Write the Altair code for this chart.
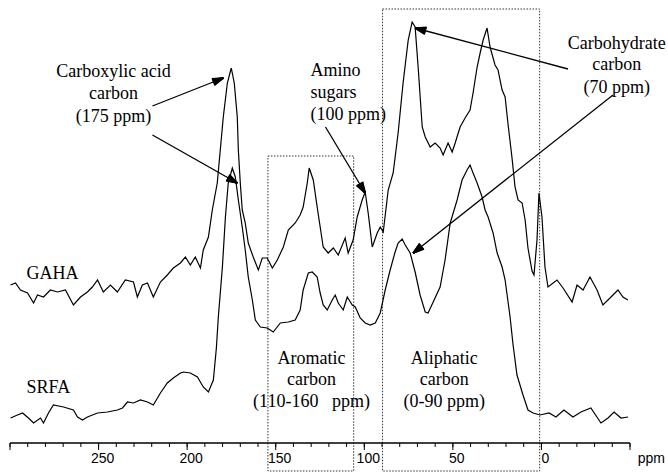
import math
import altair as alt
import pandas as pd

# ---------------- data ----------------
gaha_ppm = [299.7, 296.9, 294.1, 290.1, 286.7, 284.5, 281.1, 277.2, 273.2, 268.7, 264.2, 260.2, 256.3, 253.5,
            250.6, 247.3, 243.3, 239.4, 234.9, 230.3, 228.1, 225.3, 222.4, 219.1, 215.1, 211.2, 207.8, 203.8,
            201.0, 198.2, 195.4, 192.5, 190.9, 188.0, 185.8, 183.0, 181.3, 179.6, 177.3, 175.1, 173.4, 171.7,
            171.1, 170.0, 168.9, 167.2, 165.5, 162.7, 159.8, 157.6, 154.8, 151.9, 149.1, 145.7, 142.9, 139.0,
            136.2, 134.5, 132.2, 131.1, 128.8, 126.6, 124.9, 123.2, 120.4, 117.5, 114.7, 110.8, 109.1, 106.3,
            104.0, 101.2, 99.5, 97.8, 95.5, 92.7, 91.0, 89.3, 86.5, 83.7, 80.9, 78.1, 75.2, 73.0, 71.3, 69.6,
            67.3, 65.6, 62.8, 60.0, 57.2, 55.5, 52.7, 50.4, 48.7, 45.9, 43.1, 40.3, 38.6, 36.3, 34.6, 32.9,
            30.7, 29.0, 26.2, 24.5, 22.2, 20.5, 18.8, 16.6, 14.9, 13.2, 10.9, 9.2, 7.6, 5.3, 4.2, 2.5, 1.4,
            -0.3, -2.0, -3.7, -8.8, -12.2, -17.3, -20.1, -23.5, -27.4, -31.4, -34.7, -38.7, -43.2, -46.0, -48.8]
gaha_int = [158, 160, 153, 150, 140, 148, 146, 153, 151, 153, 138, 146, 151, 156,
            163, 151, 158, 151, 163, 161, 146, 158, 160, 146, 161, 168, 175, 180,
            186, 178, 186, 175, 193, 206, 233, 260, 293, 326, 360, 375, 360, 326,
            293, 260, 233, 220, 200, 186, 173, 185, 185, 175, 183, 196, 213, 220,
            228, 236, 260, 275, 263, 236, 216, 196, 190, 195, 188, 205, 190, 203,
            226, 243, 251, 230, 196, 210, 216, 211, 253, 270, 310, 360, 403, 421, 416, 376,
            316, 306, 296, 300, 295, 288, 300, 291, 300, 316, 325, 333, 350, 376, 390, 403,
            415, 396, 378, 373, 353, 346, 318, 285, 256, 243, 240, 223, 195, 172, 168, 203, 250,
            226, 176, 156, 163, 155, 141, 158, 153, 166, 153, 138, 145, 153, 146, 143]

srfa_ppm = [299.7, 295.8, 292.9, 289.6, 286.7, 282.8, 281.1, 278.3, 275.5, 269.8, 264.2, 261.9, 259.1, 256.3,
            250.6, 245.0, 239.4, 236.5, 233.7, 230.3, 226.4, 222.4, 219.1, 215.1, 211.2, 207.8, 203.8, 202.1,
            198.2, 194.2, 190.9, 188.0, 185.2, 183.5, 182.4, 180.1, 178.4, 176.8, 174.5, 172.8, 171.1, 168.9,
            167.2, 165.5, 163.2, 161.5, 158.7, 154.8, 151.4, 147.4, 142.9, 139.0, 136.2, 134.5, 131.6, 129.4,
            126.6, 124.9, 123.2, 120.9, 118.1, 116.4, 114.7, 111.9, 109.6, 106.8, 105.1, 102.3, 99.5, 96.7,
            93.8, 91.0, 88.2, 85.4, 82.6, 80.9, 78.6, 76.9, 74.1, 71.3, 68.5, 65.6, 64.0, 61.1, 57.2, 54.4,
            51.5, 47.6, 44.8, 42.0, 40.3, 38.6, 36.3, 33.5, 31.8, 30.1, 27.3, 25.0, 22.2, 20.5, 17.7, 16.0,
            13.8, 10.4, 7.6, 4.7, 0.8, -4.3, -8.2, -12.7, -17.8, -22.3, -27.9, -33.6, -37.6, -41.0, -44.9, -48.9]
srfa_int = [25, 28, 30, 25, 20, 25, 20, 30, 38, 36, 33, 26, 23, 26,
            30, 31, 33, 35, 41, 40, 43, 41, 38, 50, 60, 65, 70, 71,
            70, 66, 56, 51, 63, 95, 126, 176, 226, 260, 275, 266, 243, 216,
            193, 166, 143, 123, 116, 115, 111, 120, 121, 123, 133, 153, 170, 171,
            166, 150, 138, 133, 143, 148, 140, 133, 146, 138, 136, 125, 120, 118,
            120, 130, 153, 173, 191, 200, 204, 198, 190, 171, 148, 131, 130, 141, 156, 183,
            220, 243, 263, 273, 278, 270, 260, 246, 233, 226, 210, 190, 176, 163, 126, 98,
            68, 48, 33, 30, 28, 30, 26, 33, 26, 31, 35, 20, 25, 31, 25, 26]

axis_start, axis_end = 300, -50
minor_ticks = list(range(300, -51, -10))
major_ticks = list(range(300, -51, -50))
tick_labels = [250, 200, 150, 100, 50, 0]

# annotation text lines
ann_center_text = ["Carboxylic acid", "carbon", "(175 ppm)",
                   "Carbohydrate", "carbon", "(70 ppm)",
                   "Aromatic", "carbon", "(110-160\u00a0\u00a0 ppm)",
                   "Aliphatic", "carbon", "(0-90 ppm)"]
ann_center_ppm = [241.6, 241.6, 241.6, -42.5, -42.5, -42.5, 129.8, 129.8, 129.8, 54.9, 54.9, 54.9]
ann_center_int = [371, 349, 326, 399, 378, 355, 84, 63, 41, 84, 63, 41]

ann_left_text = ["Amino", "sugars", "(100 ppm)", "GAHA", "SRFA"]
ann_left_ppm = [130.4, 130.4, 130.4, 290.7, 290.7]
ann_left_int = [372, 350, 328, 169, 55]

# arrows: start -> tip
arr_ppm1 = [219.6, 219.6, 121.9, -15.0, -40.4]
arr_int1 = [337, 308, 316, 374, 348]
arr_ppm2 = [179.6, 171.7, 99.5, 71.3, 72.4]
arr_int2 = [365, 260, 250, 415, 190]

# dotted region boxes
box_ppm1 = [154.4, 89.7]
box_ppm2 = [106.0, 1.0]
box_int_top = [287, 434]
box_int_bot = [-28, -28]

# ---------------- chart ----------------
W, H = 668, 474
X_DOMAIN = [305.65, -71.45]
Y_DOMAIN = [-31, 443]

xs = alt.Scale(domain=X_DOMAIN, nice=False, zero=False)
ys = alt.Scale(domain=Y_DOMAIN, nice=False, zero=False)


def X(f):
    return alt.X(f, scale=xs, axis=None)


def Y(f):
    return alt.Y(f, scale=ys, axis=None)


spec_df = pd.DataFrame({
    "ppm": gaha_ppm + srfa_ppm,
    "intensity": gaha_int + srfa_int,
    "sample": ["GAHA"] * len(gaha_ppm) + ["SRFA"] * len(srfa_ppm),
    "idx": list(range(len(gaha_ppm))) + list(range(len(srfa_ppm))),
})

lines = alt.Chart(spec_df).mark_line(color="black", strokeWidth=1.2).encode(
    x=X("ppm:Q"), y=Y("intensity:Q"), detail="sample:N", order="idx:Q",
)

# x axis drawn with the chart's own scale
axis_df = pd.DataFrame({"a": [axis_start], "b": [axis_end], "y0": [0]})
axis_line = alt.Chart(axis_df).mark_rule(color="black", strokeWidth=1.6).encode(
    x=X("a:Q"), x2="b:Q", y=Y("y0:Q"),
)
minor_df = pd.DataFrame({"v": minor_ticks, "y0": [0] * len(minor_ticks), "y1": [-4] * len(minor_ticks)})
minor = alt.Chart(minor_df).mark_rule(color="black", strokeWidth=1).encode(
    x=X("v:Q"), y=Y("y0:Q"), y2="y1:Q",
)
major_df = pd.DataFrame({"v": major_ticks, "y0": [0] * len(major_ticks), "y1": [-7] * len(major_ticks)})
major = alt.Chart(major_df).mark_rule(color="black", strokeWidth=1).encode(
    x=X("v:Q"), y=Y("y0:Q"), y2="y1:Q",
)
lab_df = pd.DataFrame({"v": tick_labels, "t": [str(v) for v in tick_labels],
                       "y0": [-9] * len(tick_labels)})
labels = alt.Chart(lab_df).mark_text(font="Liberation Sans", fontSize=14, color="black",
                                     align="center", baseline="top", dx=4).encode(
    x=X("v:Q"), y=Y("y0:Q"), text="t:N",
)
unit_df = pd.DataFrame({"t": ["ppm"], "p": [-62.0], "i": [-9]})
unit_text = alt.Chart(unit_df).mark_text(font="Liberation Sans", fontSize=14, color="black",
                                         align="center", baseline="top").encode(
    x=X("p:Q"), y=Y("i:Q"), text="t:N")

box_df = pd.DataFrame({"p1": box_ppm1, "p2": box_ppm2, "t": box_int_top, "b": box_int_bot})
boxes = alt.Chart(box_df).mark_rect(fillOpacity=0, stroke="#333333", strokeWidth=1,
                                    strokeDash=[1.5, 1.5]).encode(
    x=X("p1:Q"), x2="p2:Q", y=Y("t:Q"), y2="b:Q",
)

# arrowheads: a dense fan of short strokes from each tip back to its base edge (solid wedge)
px_per_ppm = W / (X_DOMAIN[0] - X_DOMAIN[1])
px_per_int = H / (Y_DOMAIN[1] - Y_DOMAIN[0])
HEAD_LEN, HEAD_HALF_W, FAN = 11.0, 3.6, 13
fan_rows = []
for a, b, c, d in zip(arr_ppm1, arr_int1, arr_ppm2, arr_int2):
    dx = -(c - a) * px_per_ppm
    dy = -(d - b) * px_per_int
    ln = math.hypot(dx, dy)
    ux, uy = dx / ln, dy / ln
    px_, py_ = -uy, ux
    for k in range(FAN):
        t = -1 + 2 * k / (FAN - 1)
        bx = -ux * HEAD_LEN + px_ * HEAD_HALF_W * t
        by = -uy * HEAD_LEN + py_ * HEAD_HALF_W * t
        fan_rows.append({"tp": c, "ti": d,
                         "bp": c - bx / px_per_ppm, "bi": d - by / px_per_int})
fan_df = pd.DataFrame(fan_rows)

arr_df = pd.DataFrame({"p1": arr_ppm1, "i1": arr_int1, "p2": arr_ppm2, "i2": arr_int2})
arrow_lines = alt.Chart(arr_df).mark_rule(color="black", strokeWidth=1.3).encode(
    x=X("p1:Q"), x2="p2:Q", y=Y("i1:Q"), y2="i2:Q",
)
arrow_heads = alt.Chart(fan_df).mark_rule(color="black", strokeWidth=1.6).encode(
    x=X("tp:Q"), x2="bp:Q", y=Y("ti:Q"), y2="bi:Q",
)

cen_df = pd.DataFrame({"t": ann_center_text, "p": ann_center_ppm, "i": ann_center_int})
cen_text = alt.Chart(cen_df).mark_text(font="Liberation Serif", fontSize=18, color="black",
                                       align="center", baseline="middle").encode(
    x=X("p:Q"), y=Y("i:Q"), text="t:N")

left_df = pd.DataFrame({"t": ann_left_text, "p": ann_left_ppm, "i": ann_left_int})
left_text = alt.Chart(left_df).mark_text(font="Liberation Serif", fontSize=18, color="black",
                                         align="left", baseline="middle").encode(
    x=X("p:Q"), y=Y("i:Q"), text="t:N")

chart = alt.layer(
    boxes, lines, axis_line, minor, major, labels, unit_text,
    arrow_lines, arrow_heads, cen_text, left_text,
).properties(
    width=W, height=H, padding=0,
    autosize=alt.AutoSizeParams(type="none"),
    background="white",
).configure_view(strokeWidth=0)

chart.save("out.html", embed_options={"renderer": "svg", "actions": False})
